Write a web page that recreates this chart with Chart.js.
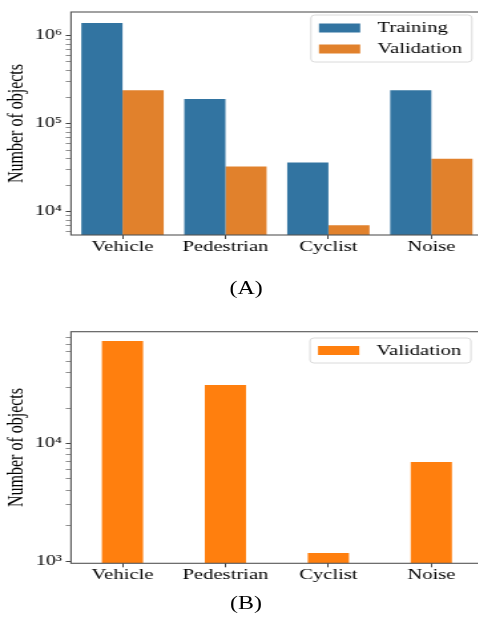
<!DOCTYPE html>
<html>
<head>
<meta charset="utf-8">
<script src="https://cdn.jsdelivr.net/npm/chart.js@4.4.1/dist/chart.umd.min.js"></script>
<style>
  body { margin: 0; background: #fff; overflow: hidden; }
  #wrap { position: relative; width: 364px; height: 619px; transform: scaleX(1.33); transform-origin: 0 0; }
  #wrap canvas { position: absolute; left: 0; }
  .caption { position: absolute; left: 0; width: 370px; text-align: center; font: 18px "Liberation Serif", serif; color: #000; line-height: 20px; }
</style>
</head>
<body>
<div id="wrap">
  <canvas id="chartA" width="364" height="270" style="top:0"></canvas>
  <div class="caption" style="top:278px">(A)</div>
  <canvas id="chartB" width="364" height="280" style="top:318px"></canvas>
  <div class="caption" style="top:593px">(B)</div>
</div>
<script>
const categories = ['Vehicle', 'Pedestrian', 'Cyclist', 'Noise'];
const trainingA = [1390000, 190000, 36000, 239000];
const validationA = [239000, 32400, 6980, 39800];
const validationB = [74300, 31400, 1170, 6960];
const yTicksA = [1e4, 1e5, 1e6];
const yLabelsA = ['10⁴', '10⁵', '10⁶'];
const yTicksB = [1e3, 1e4];
const yLabelsB = ['10³', '10⁴'];

Chart.defaults.font.family = '"Liberation Serif", "Times New Roman", serif';
Chart.defaults.color = '#000';

// Box around the plot (matplotlib spines)
const frame = {
    id: 'frame',
    afterDatasetsDraw(chart) {
        const { ctx, chartArea: a } = chart;
        ctx.save();
        ctx.strokeStyle = '#555';
        ctx.lineWidth = 1.1;
        ctx.strokeRect(a.left, a.top, a.right - a.left, a.bottom - a.top);
        ctx.restore();
    }
};

// Legend drawn inside the plot, upper right
const boxLegend = {
    id: 'boxLegend',
    afterDraw(chart, args, opts) {
        const { ctx } = chart;
        const sets = chart.data.datasets;
        const h = sets.length * opts.rowHeight + opts.pad * 2;
        ctx.save();
        ctx.fillStyle = 'rgba(255,255,255,0.85)';
        ctx.strokeStyle = '#dadada';
        ctx.lineWidth = 1;
        ctx.beginPath();
        ctx.roundRect(opts.x, opts.y, opts.width, h, 3);
        ctx.fill();
        ctx.stroke();
        ctx.font = '15.5px "Liberation Serif", serif';
        ctx.textBaseline = 'middle';
        sets.forEach((ds, i) => {
            const cy = opts.y + opts.pad + opts.rowHeight * (i + 0.5);
            ctx.fillStyle = ds.backgroundColor;
            ctx.fillRect(opts.x + 6, cy - 4.5, 31, 9);
            ctx.fillStyle = '#000';
            ctx.fillText(ds.label, opts.x + 50, cy);
        });
        ctx.restore();
    }
};

const logAxis = (min, max, tickValues, tickLabels) => ({
    type: 'logarithmic',
    min,
    max,
    afterBuildTicks: (scale) => {
        const list = [];
        for (let e = Math.floor(Math.log10(min)); e <= Math.ceil(Math.log10(max)); e++) {
            for (let m = 1; m < 10; m++) {
                const v = m * Math.pow(10, e);
                if (v >= min && v <= max) list.push({ value: v, major: m === 1 });
            }
        }
        scale.ticks = list;
    },
    afterFit: (scale) => { scale.width = 53.4; },
    ticks: {
        autoSkip: false,
        padding: 3,
        color: '#000',
        font: { size: 15 },
        callback: (v) => {
            const i = tickValues.indexOf(v);
            return i >= 0 ? tickLabels[i] : '';
        }
    },
    grid: {
        drawOnChartArea: false,
        tickLength: 4,
        tickColor: '#444',
        tickWidth: (c) => (c.tick && c.tick.major ? 1 : 0.6)
    },
    border: { display: false },
    title: { display: true, text: 'Number of objects', color: '#000', font: { size: 16 }, padding: { top: 3, bottom: 0 } }
});

const catAxis = (height) => ({
    grid: { drawOnChartArea: false, offset: false, tickLength: 4, tickColor: '#444' },
    border: { display: false },
    ticks: { color: '#000', padding: 0, font: { size: 15.5, lineHeight: 1 } },
    afterFit: (scale) => { scale.height = height; }
});

const baseOptions = (top, height, yAxis, legend) => ({
    responsive: false,
    animation: false,
    layout: { padding: { top, right: 1, left: 0, bottom: 0 } },
    plugins: { legend: { display: false }, tooltip: { enabled: false }, boxLegend: legend },
    scales: { x: catAxis(height), y: yAxis }
});

// Chart A: training vs validation
new Chart(document.getElementById('chartA'), {
    type: 'bar',
    data: {
        labels: categories,
        datasets: [
            { label: 'Training', data: trainingA, backgroundColor: '#3274a1', categoryPercentage: 0.8, barPercentage: 1 },
            { label: 'Validation', data: validationA, backgroundColor: '#e1812c', categoryPercentage: 0.8, barPercentage: 1 }
        ]
    },
    options: baseOptions(7, 35, logAxis(5410, 1.849e6, yTicksA, yLabelsA), { x: 233.8, y: 15, width: 121, rowHeight: 21, pad: 2.5 }),
    plugins: [frame, boxLegend]
});

// Chart B: validation only
new Chart(document.getElementById('chartB'), {
    type: 'bar',
    data: {
        labels: categories,
        datasets: [
            { label: 'Validation', data: validationB, backgroundColor: '#ff7f0e', categoryPercentage: 1, barPercentage: 0.4 }
        ]
    },
    options: baseOptions(13.7, 34.7, logAxis(956, 89300, yTicksB, yLabelsB), { x: 233.1, y: 20, width: 121, rowHeight: 21, pad: 2 }),
    plugins: [frame, boxLegend]
});
</script>
</body>
</html>
